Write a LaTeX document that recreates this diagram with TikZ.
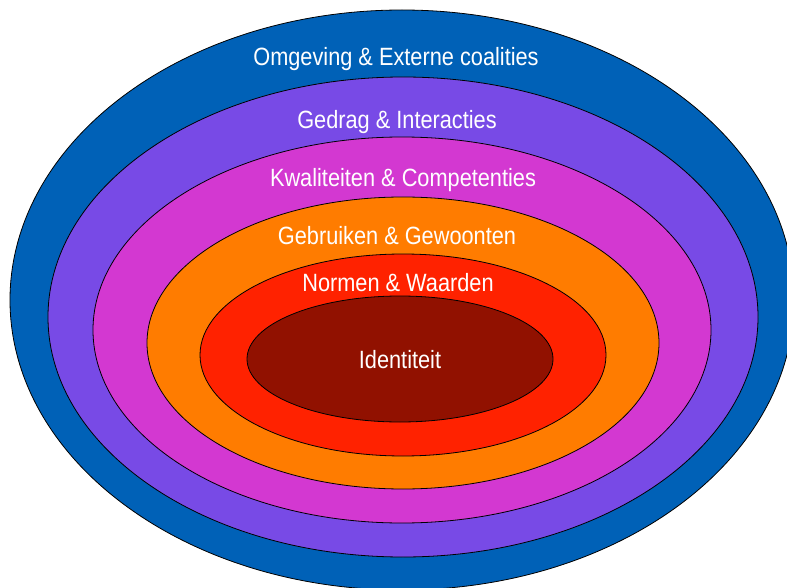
\documentclass[tikz,border=0pt]{standalone}
\usepackage{fontspec}
\setmainfont{Liberation Sans}[FakeStretch=0.87]
\usepackage{tikz}

\definecolor{omgblue}{RGB}{0,97,183}
\definecolor{gedpurple}{RGB}{120,74,230}
\definecolor{kwamagenta}{RGB}{211,56,209}
\definecolor{gebrorange}{RGB}{255,124,0}
\definecolor{normred}{RGB}{255,34,0}
\definecolor{identred}{RGB}{145,17,0}

\tikzset{
    layer/.style={draw=black, line width=0.8pt},
    lbl/.style={text=white, font=\fontsize{25}{29}\selectfont, inner sep=0pt}
}

\begin{document}
\begin{tikzpicture}[x=1pt, y=-1pt]
    \useasboundingbox (0, 0) rectangle (787, 588);
    \clip (0, 0) rectangle (787, 588);
    % schillen, van buiten naar binnen
    \draw[layer, fill=omgblue] (402, 300) ellipse [x radius=392, y radius=290];
    \draw[layer, fill=gedpurple] (403, 317) ellipse [x radius=355, y radius=240];
    \draw[layer, fill=kwamagenta] (402, 330) ellipse [x radius=309, y radius=193];
    \draw[layer, fill=gebrorange] (403, 343) ellipse [x radius=256, y radius=146];
    \draw[layer, fill=normred] (403, 355) ellipse [x radius=203, y radius=101];
    \draw[layer, fill=identred] (400, 359) ellipse [x radius=153, y radius=63];
    % teksten
    \node[lbl] (omgeving) at (396, 59) {Omgeving \& Externe coalities};
    \node[lbl] (gedrag) at (397, 122) {Gedrag \& Interacties};
    \node[lbl] (kwaliteiten) at (403, 180) {Kwaliteiten \& Competenties};
    \node[lbl] (gebruiken) at (397, 236) {Gebruiken \& Gewoonten};
    \node[lbl] (normen) at (398, 283) {Normen \& Waarden};
    \node[lbl] (identiteit) at (400, 360) {Identiteit};
\end{tikzpicture}
\end{document}
